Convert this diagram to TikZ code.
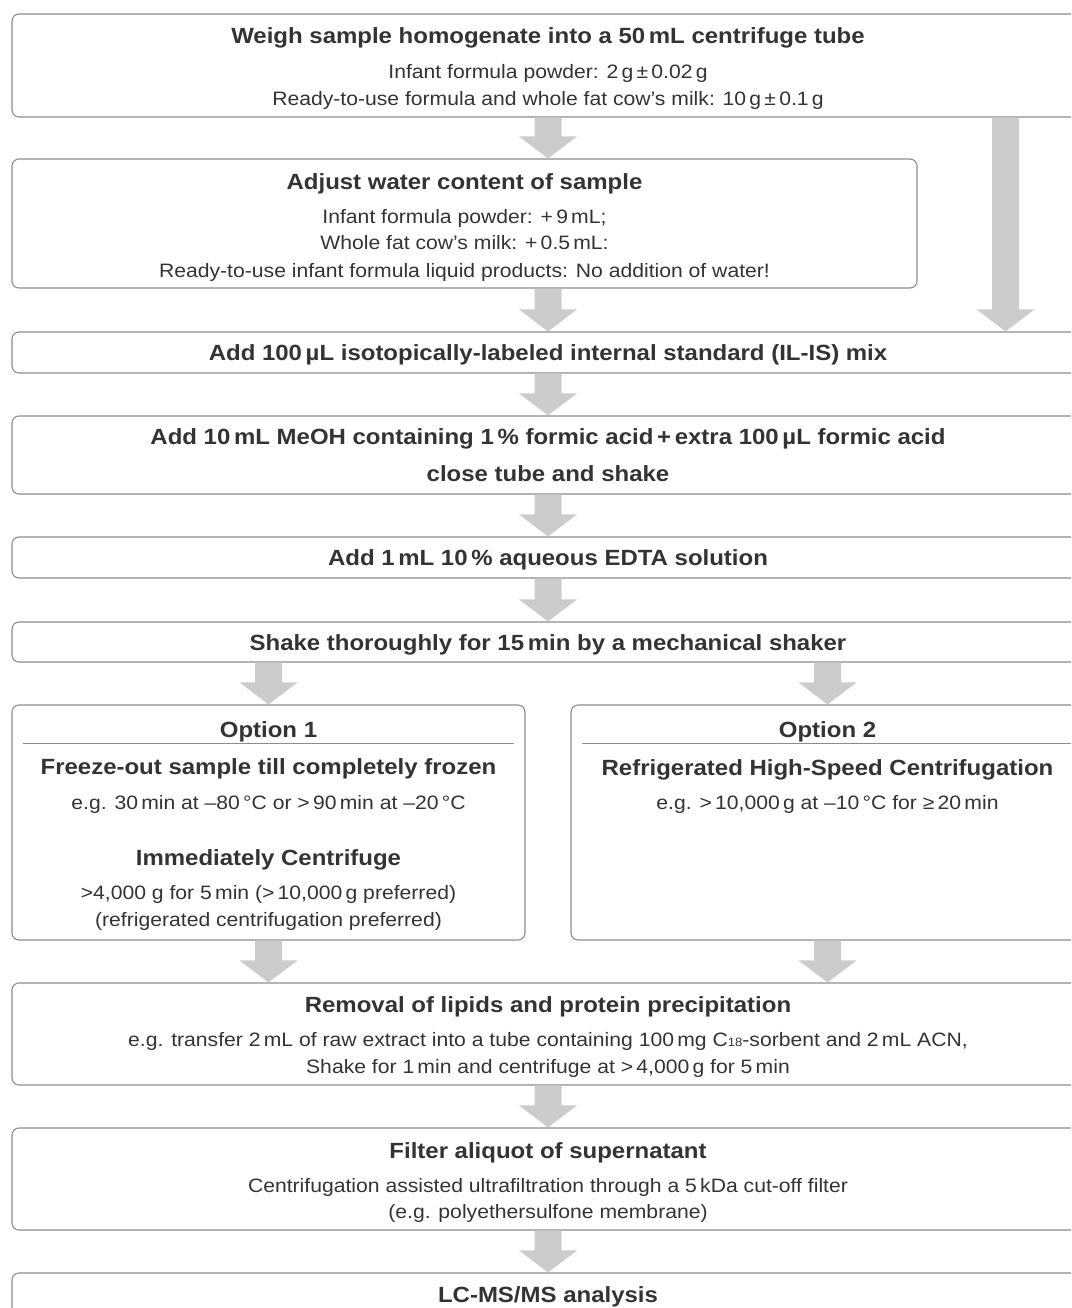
\documentclass[tikz,border=0pt]{standalone}
\usepackage{fontspec}
\setmainfont{Liberation Sans}[FakeStretch=1.09]
\usetikzlibrary{calc}
\definecolor{txt}{HTML}{333333}
\definecolor{frame}{HTML}{8C8C8C}
\definecolor{arr}{HTML}{CCCCCC}
\newcommand\blockarr[2]{\fill[arr] let \p1=(#1), \p2=(#2) in
  (\x1-13.5pt,\y1) -- (\x1+13.5pt,\y1) -- (\x1+13.5pt,\y2+22pt) -- (\x1+29pt,\y2+22pt)
  -- (\x1,\y2) -- (\x1-29pt,\y2+22pt) -- (\x1-13.5pt,\y2+22pt) -- cycle;}
\tikzset{
  box/.style={draw=frame, line width=1.1pt, rounded corners=7pt, inner sep=0pt},
  ttl/.style={font=\fontsize{22}{26}\selectfont\bfseries, text=txt, anchor=base, yshift=-7.5pt, inner sep=0pt},
  bdy/.style={font=\fontsize{19.4}{22}\selectfont, text=txt, anchor=base, yshift=-6.6pt, inner sep=0pt},
  rule/.style={draw=frame, line width=1pt}
}
\begin{document}
\begin{tikzpicture}[x=1pt,y=-1pt]
\useasboundingbox (0,0) rectangle (1071,1308);
\clip (0,0) rectangle (1071,1308);
% boxes
\node (b1) [box, minimum width=1072pt, minimum height=103pt] at (548,65.5) {};
\node (b2) [box, minimum width=905pt, minimum height=129pt] at (464.5,223.5) {};
\node (b3) [box, minimum width=1072pt, minimum height=41pt] at (548,352.5) {};
\node (b4) [box, minimum width=1072pt, minimum height=78pt] at (548,455) {};
\node (b5) [box, minimum width=1072pt, minimum height=41pt] at (548,557.5) {};
\node (b6) [box, minimum width=1072pt, minimum height=40pt] at (548,642) {};
\node (o1) [box, minimum width=513pt, minimum height=235pt] at (268.5,822.5) {};
\node (o2) [box, minimum width=513pt, minimum height=235pt] at (827.5,822.5) {};
\node (b7) [box, minimum width=1072pt, minimum height=102pt] at (548,1034) {};
\node (b8) [box, minimum width=1072pt, minimum height=102pt] at (548,1179) {};
\node (b9) [box, minimum width=1072pt, minimum height=67pt] at (548,1306.5) {};
% option rules
\draw[rule] ($(o1.north west)+(12,39)$) -- ($(o1.north east)+(-12,39)$);
\draw[rule] ($(o2.north west)+(12,39)$) -- ($(o2.north east)+(-12,39)$);
% arrows
\blockarr{b1.south}{b1.south |- b2.north}
\blockarr{b3.north |- b2.south}{b3.north}
\blockarr{[xshift=-79pt]b1.south east}{[xshift=-79pt]b3.north east}
\blockarr{b3.south}{b4.north}
\blockarr{b4.south}{b5.north}
\blockarr{b5.south}{b6.north}
\blockarr{o1.north |- b6.south}{o1.north}
\blockarr{o2.north |- b6.south}{o2.north}
\blockarr{o1.south}{o1.south |- b7.north}
\blockarr{o2.south}{o2.south |- b7.north}
\blockarr{b7.south}{b8.north}
\blockarr{b8.south}{b9.north}
% texts
\node (t1) [ttl] at (548,36) {Weigh sample homogenate into a 50\,mL centrifuge tube};
\node (t1a) [bdy] at (548,72) {Infant formula powder: 2\,g\,±\,0.02\,g};
\node (t1b) [bdy] at (548,99) {Ready-to-use formula and whole fat cow’s milk: 10\,g\,±\,0.1\,g};
\node (t2) [ttl] at (464.5,182) {Adjust water content of sample};
\node (t2a) [bdy] at (464.5,217) {Infant formula powder: +\,9\,mL;};
\node (t2b) [bdy] at (464.5,243) {Whole fat cow’s milk: +\,0.5\,mL:};
\node (t2c) [bdy] at (464.5,271) {Ready-to-use infant formula liquid products: No addition of water!};
\node (t3) [ttl] at (548,353) {Add 100\,µL isotopically-labeled internal standard (IL-IS) mix};
\node (t4) [ttl] at (548,437) {Add 10\,mL MeOH containing 1\,\% formic acid\,+\,extra 100\,µL formic acid};
\node (t4a) [ttl] at (548,474) {close tube and shake};
\node (t5) [ttl] at (548,558) {Add 1\,mL 10\,\% aqueous EDTA solution};
\node (t6) [ttl] at (548,643) {Shake thoroughly for 15\,min by a mechanical shaker};
\node (p1) [ttl] at (268.5,730) {Option 1};
\node (p1a) [ttl] at (268.5,767) {Freeze-out sample till completely frozen};
\node (p1b) [bdy] at (268.5,803) {e.g. 30\,min at –80\,°C or >\,90\,min at –20\,°C};
\node (p1c) [ttl] at (268.5,858) {Immediately Centrifuge};
\node (p1d) [bdy] at (268.5,893) {>4,000 g for 5\,min (>\,10,000\,g preferred)};
\node (p1e) [bdy] at (268.5,920) {(refrigerated centrifugation preferred)};
\node (p2) [ttl] at (827.5,730) {Option 2};
\node (p2a) [ttl] at (827.5,768) {Refrigerated High-Speed Centrifugation};
\node (p2b) [bdy] at (827.5,803) {e.g. >\,10,000\,g at –10\,°C for ≥\,20\,min};
\node (t7) [ttl] at (548,1005) {Removal of lipids and protein precipitation};
\node (t7a) [bdy] at (548,1040) {e.g. transfer 2\,mL of raw extract into a tube containing 100\,mg C{\fontsize{12}{12}\selectfont 18}-sorbent and 2\,mL ACN,};
\node (t7b) [bdy] at (548,1067) {Shake for 1\,min and centrifuge at >\,4,000\,g for 5\,min};
\node (t8) [ttl] at (548,1151) {Filter aliquot of supernatant};
\node (t8a) [bdy] at (548,1186) {Centrifugation assisted ultrafiltration through a 5\,kDa cut-off filter};
\node (t8b) [bdy] at (548,1212) {(e.g. polyethersulfone membrane)};
\node (t9) [ttl] at (548,1295) {LC-MS/MS analysis};
\end{tikzpicture}
\end{document}
